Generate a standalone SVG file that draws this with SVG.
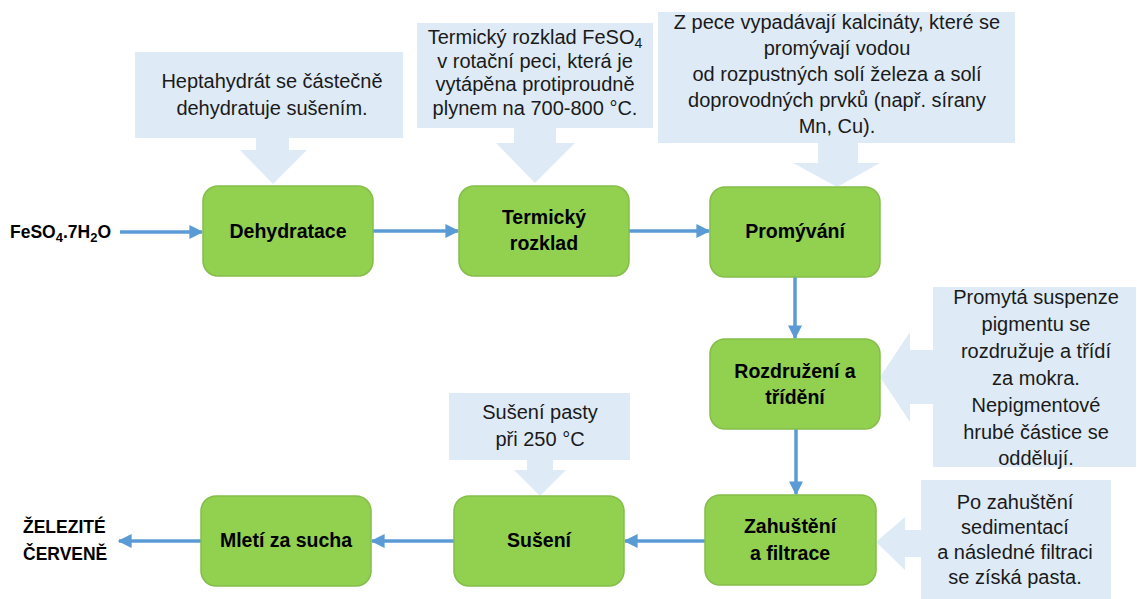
<svg xmlns="http://www.w3.org/2000/svg" width="1137" height="599" viewBox="0 0 1137 599">
<defs>
<style>
.box{fill:#92D050;stroke:#84BD49;stroke-width:1.5}
.note{fill:#DEEBF7}
.lbl{font-family:"Liberation Sans",Arial,sans-serif;font-weight:bold;font-size:19.5px;fill:#000;text-anchor:middle}
.txt{font-family:"Liberation Sans",Arial,sans-serif;font-size:20px;fill:#1a1a1a;text-anchor:middle}
.io{font-family:"Liberation Sans",Arial,sans-serif;font-weight:bold;font-size:17.5px;fill:#000}
.con{stroke:#5B9BD5;stroke-width:3.5;fill:none}
</style>
<marker id="ah" viewBox="0 0 10 10" refX="9" refY="5" markerWidth="4" markerHeight="4" markerUnits="strokeWidth" orient="auto">
<path d="M0,0 L10,5 L0,10 z" fill="#5B9BD5"/>
</marker>
</defs>
<rect width="1137" height="599" fill="#fff"/>

<g id="note-heptahydrat">
<rect class="note" x="135" y="52" width="268" height="86"/>
<polygon class="note" points="256,138 289,138 289,150 307,150 273,184 240,150 256,150"/>
<text class="txt" x="272" y="88">Heptahydrát  se částečně</text>
<text class="txt" x="272" y="115">dehydratuje sušením.</text>
</g>

<g id="note-termicky">
<rect class="note" x="417" y="23" width="236" height="105"/>
<polygon class="note" points="514,128 556,128 556,143 575,143 535,183 496,143 514,143"/>
<text class="txt" x="535" y="44">Termický rozklad FeSO<tspan font-size="14" dy="4">4</tspan></text>
<text class="txt" x="535" y="68">v rotační peci, která je</text>
<text class="txt" x="535" y="91">vytápěna protiproudně</text>
<text class="txt" x="535" y="115">plynem na 700-800 °C.</text>
</g>

<g id="note-pece">
<rect class="note" x="658" y="12" width="357" height="131"/>
<polygon class="note" points="818,143 858,143 858,163 880,163 837,187 793,163 818,163"/>
<text class="txt" x="837" y="29">Z pece vypadávají kalcináty, které se</text>
<text class="txt" x="837" y="55">promývají vodou</text>
<text class="txt" x="837" y="81">od rozpustných solí železa a solí</text>
<text class="txt" x="837" y="107">doprovodných prvků (např. sírany</text>
<text class="txt" x="837" y="133">Mn, Cu).</text>
</g>

<g id="note-promyta">
<rect class="note" x="933" y="287" width="203" height="180"/>
<polygon class="note" points="933,350 910,350 910,332 880,377 910,422 910,404 933,404"/>
<text class="txt" x="1036" y="304">Promytá suspenze</text>
<text class="txt" x="1036" y="331">pigmentu se</text>
<text class="txt" x="1036" y="358">rozdružuje a třídí</text>
<text class="txt" x="1036" y="385">za mokra.</text>
<text class="txt" x="1036" y="412">Nepigmentové</text>
<text class="txt" x="1036" y="439">hrubé částice se</text>
<text class="txt" x="1036" y="465">oddělují.</text>
</g>

<g id="note-suseni">
<rect class="note" x="449" y="393" width="181" height="67"/>
<polygon class="note" points="527,460 553,460 553,470 566,470 540,496 514,470 527,470"/>
<text class="txt" x="540" y="419">Sušení pasty</text>
<text class="txt" x="540" y="446">při 250 °C</text>
</g>

<g id="note-zahusteni">
<rect class="note" x="921" y="480" width="190" height="119"/>
<polygon class="note" points="921,530 905,530 905,517 876,542 905,570 905,557 921,557"/>
<text class="txt" x="1015" y="509">Po zahuštění</text>
<text class="txt" x="1015" y="534">sedimentací</text>
<text class="txt" x="1015" y="559">a následné filtraci</text>
<text class="txt" x="1015" y="584">se získá pasta.</text>
</g>

<g id="connectors">
<line class="con" x1="120" y1="232" x2="202" y2="232" marker-end="url(#ah)"/>
<line class="con" x1="373" y1="231" x2="458" y2="231" marker-end="url(#ah)"/>
<line class="con" x1="629" y1="231" x2="709" y2="231" marker-end="url(#ah)"/>
<line class="con" x1="795" y1="277" x2="795" y2="338" marker-end="url(#ah)"/>
<line class="con" x1="796" y1="429" x2="796" y2="494" marker-end="url(#ah)"/>
<line class="con" x1="705" y1="541" x2="625" y2="541" marker-end="url(#ah)"/>
<line class="con" x1="454" y1="541" x2="372" y2="541" marker-end="url(#ah)"/>
<line class="con" x1="201" y1="541" x2="119" y2="541" marker-end="url(#ah)"/>
</g>

<g id="input">
<text class="io" x="10" y="238" font-size="18.5">FeSO<tspan font-size="13" dy="4">4</tspan><tspan dy="-4">.7H</tspan><tspan font-size="13" dy="4">2</tspan><tspan dy="-4">O</tspan></text>
</g>

<g id="node-dehydratace">
<rect class="box" x="203" y="186" width="170" height="90" rx="15"/>
<text class="lbl" x="288" y="238">Dehydratace</text>
</g>

<g id="node-termicky">
<rect class="box" x="459" y="186" width="170" height="90" rx="15"/>
<text class="lbl" x="544" y="224">Termický</text>
<text class="lbl" x="544" y="250">rozklad</text>
</g>

<g id="node-promyvani">
<rect class="box" x="710" y="187" width="170" height="90" rx="15"/>
<text class="lbl" x="795" y="238">Promývání</text>
</g>

<g id="node-rozdruzeni">
<rect class="box" x="710" y="339" width="170" height="90" rx="15"/>
<text class="lbl" x="795" y="378">Rozdružení a</text>
<text class="lbl" x="795" y="404">třídění</text>
</g>

<g id="node-zahusteni">
<rect class="box" x="705" y="495" width="171" height="90" rx="15"/>
<text class="lbl" x="790" y="533">Zahuštění</text>
<text class="lbl" x="790" y="560">a filtrace</text>
</g>

<g id="node-suseni">
<rect class="box" x="454" y="496" width="170" height="90" rx="15"/>
<text class="lbl" x="539" y="547">Sušení</text>
</g>

<g id="node-mleti">
<rect class="box" x="201" y="496" width="170" height="90" rx="15"/>
<text class="lbl" x="286" y="547">Mletí za sucha</text>
</g>

<g id="output">
<text class="io" x="23" y="533">ŽELEZITÉ</text>
<text class="io" x="23" y="560">ČERVENĚ</text>
</g>
</svg>
